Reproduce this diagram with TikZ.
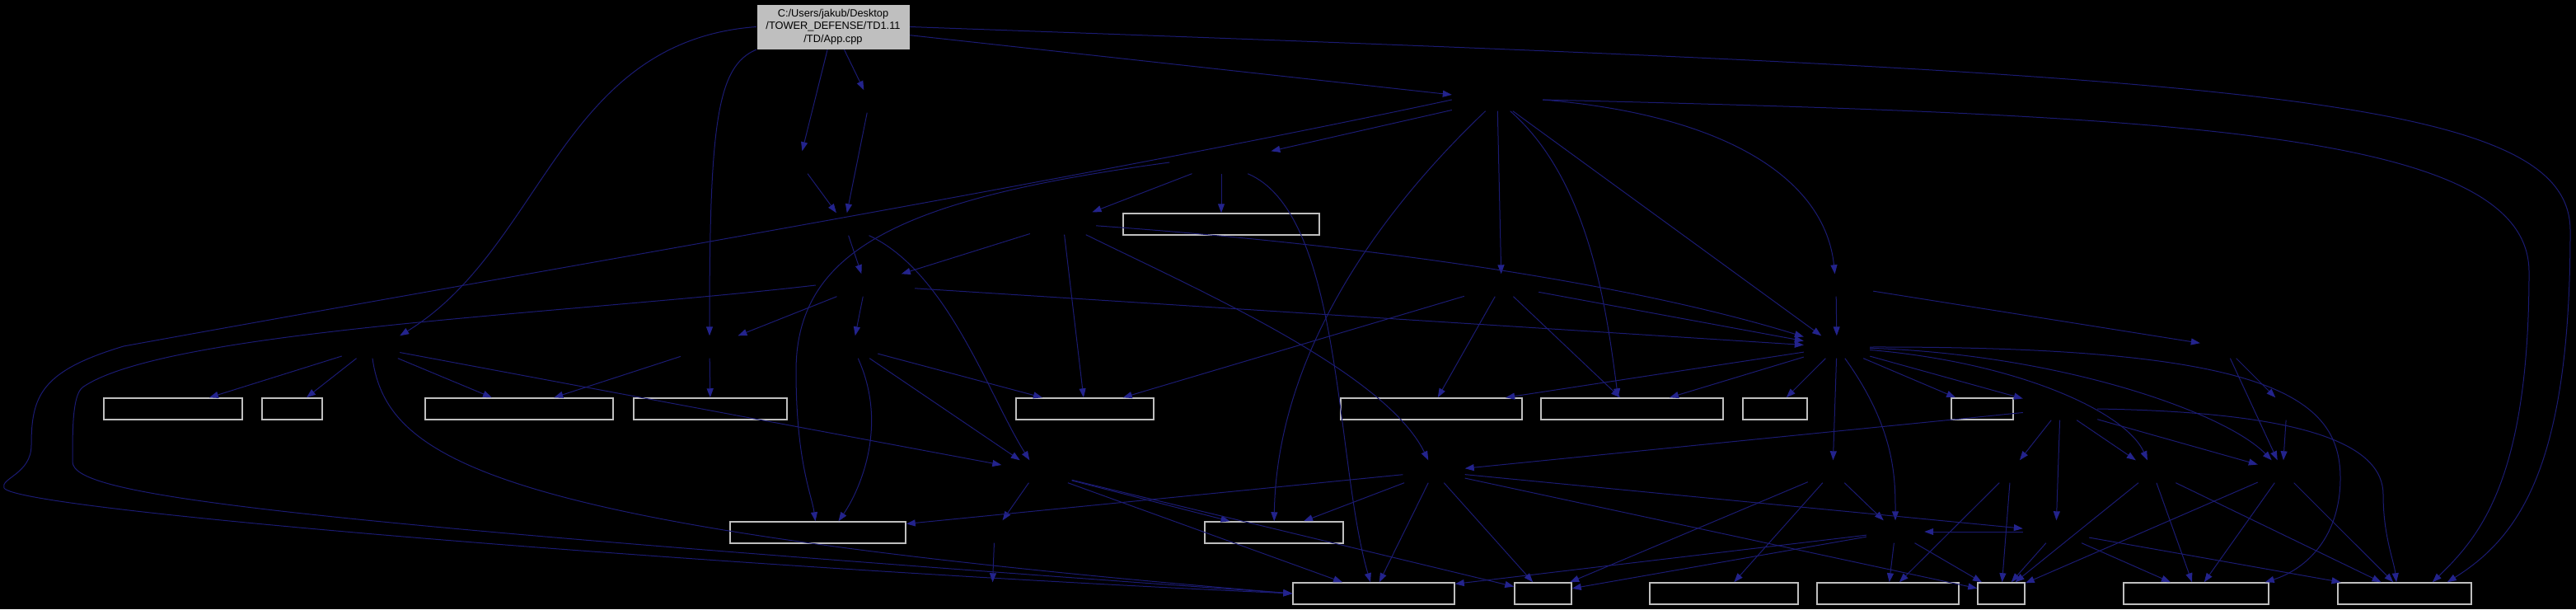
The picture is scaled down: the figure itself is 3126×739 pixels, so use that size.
\documentclass[tikz,border=0pt]{standalone}
\usepackage{fontspec}
\setmainfont{Liberation Sans}
\usetikzlibrary{arrows.meta}
\definecolor{edgeblue}{RGB}{27,27,115}
\definecolor{tipblue}{RGB}{35,35,140}
\definecolor{boxgray}{RGB}{191,191,191}
\tikzset{
  hid/.style={inner sep=0pt, minimum height=27, minimum width=#1},
  wbox/.style={draw=boxgray, fill=black, line width=1.5pt, inner sep=0pt, minimum height=26, minimum width=#1},
  rootbox/.style={draw=black, fill=boxgray, inner sep=0pt, minimum height=55, minimum width=186, align=center, font=\fontsize{12.8}{15.3}\selectfont},
  e/.style={edgeblue, line width=1pt, -{Triangle[length=11pt,width=8pt,color=tipblue]}},
}
\begin{document}
\begin{tikzpicture}[x=1pt,y=-1pt]
\fill[black] (0,0) rectangle (3126,739);
\useasboundingbox (0,0) rectangle (3126,739);
% root
\node[rootbox] (R) at (1011,32.5) {C:/Users/jakub/Desktop\\/TOWER\_DEFENSE/TD1.11\\/TD/App.cpp};
% hidden nodes
\node[hid=110] (A) at (1817,121) {};
\node[hid=60] (N2) at (1055,123) {};
\node[hid=60] (N1) at (970,197) {};
\node[hid=125] (B) at (1482,197) {};
\node[hid=80] (N3) at (1025,272) {};
\node[hid=80] (C) at (1290,271) {};
\node[hid=120] (D) at (1050,346) {};
\node[hid=90] (E) at (1822,346) {};
\node[hid=90] (F) at (2228,346) {};
\node[hid=70] (H) at (450,421) {};
\node[hid=70] (I) at (861,421) {};
\node[hid=60] (J) at (1035,421) {};
\node[hid=80] (K) at (2229,421) {};
\node[hid=60] (G) at (2700,421) {};
\node[hid=90] (L) at (2500,496) {};
\node[hid=60] (G2) at (2775,496) {};
\node[hid=85] (S) at (1258,572) {};
\node[hid=75] (T) at (1740,572) {};
\node[hid=60] (Q) at (2224,572) {};
\node[hid=60] (R2) at (2440,572) {};
\node[hid=60] (P) at (2612,572) {};
\node[hid=60] (M) at (2770,572) {};
\node[hid=40] (U) at (1207,645) {};
\node[hid=70] (V) at (2300,645) {};
\node[hid=80] (X) at (2495,645) {};
\node[hid=60] (Y) at (1204,720) {};
% white boxes
\node[wbox=238] (WB) at (1482,272) {};
\node[wbox=168] (W1) at (210,496) {};
\node[wbox=73] (W2) at (354.5,496) {};
\node[wbox=228] (W3) at (630,496) {};
\node[wbox=186] (W3b) at (862,496) {};
\node[wbox=167] (W4) at (1316.5,496) {};
\node[wbox=220] (W5) at (1737,496) {};
\node[wbox=221] (W6) at (1980.5,496) {};
\node[wbox=78] (W7) at (2154,496) {};
\node[wbox=75] (W8) at (2405.5,496) {};
\node[wbox=213] (W9) at (992.5,646) {};
\node[wbox=168] (W10) at (1546,646) {};
\node[wbox=196] (Wb1) at (1667,720) {};
\node[wbox=69] (Wb2) at (1872.5,720) {};
\node[wbox=180] (Wb3) at (2092,720) {};
\node[wbox=172] (Wb4) at (2291,720) {};
\node[wbox=57] (Wb5) at (2428.5,720) {};
\node[wbox=176] (Wb6) at (2665,720) {};
\node[wbox=162] (Wb7) at (2918,720) {};
% edges from root
\draw[e] (R) -- (A);
\draw[e] (R) -- (N1);
\draw[e] (R) -- (N2);
\draw[e] (R.south west) .. controls (870,80) and (861,150) .. (I);
\draw[e] (R.west) .. controls (680,50) and (660,300) .. (H.north east);
\draw[e] (R.east) .. controls (2700,90) and (3119,110) .. (3119,280) .. controls (3119,560) and (3060,650) .. ([xshift=-30]Wb7.north east);
% A
\draw[e] (A.east) .. controls (2650,140) and (3069,160) .. (3069,330) .. controls (3069,580) and (3010,650) .. ([xshift=-48]Wb7.north east);
\draw[e] (A) -- (B);
\draw[e] (A) -- (E);
\draw[e] (A) -- (K);
\draw[e] (A.east) .. controls (2100,140) and (2215,220) .. (F);
\draw[e] (A) .. controls (1930,220) and (1950,380) .. ([xshift=-17]W6.north);
\draw[e] (A) .. controls (1650,280) and (1549,450) .. (W10);
\draw[e] (A.west) .. controls (1300,220) and (700,320) .. (150,420) .. controls (50,450) and (38,480) .. (38,540) .. controls (38,575) and (0,580) .. (5,592) .. controls (20,620) and (900,690) .. (Wb1.west);
% B, C, N
\draw[e] (B) -- (WB);
\draw[e] (B) -- (C);
\draw[e] (B.west) .. controls (1100,240) and (966,300) .. (966,450) .. controls (966,560) and (985,600) .. ([xshift=-3]W9.north);
\draw[e] (B) .. controls (1630,260) and (1620,560) .. ([xshift=-4]Wb1.north);
\draw[e] (N1) -- (N3);
\draw[e] (N2) -- (N3);
\draw[e] (N3) -- (D);
\draw[e] (N3) .. controls (1150,330) and (1200,480) .. (S);
\draw[e] (C) -- (D);
\draw[e] (C) .. controls (1700,300) and (2000,350) .. (K);
\draw[e] (C) -- (W4);
\draw[e] (C) .. controls (1450,350) and (1680,450) .. (T);
% D
\draw[e] (D) -- (I);
\draw[e] (D) -- (J);
\draw[e] (D) -- (K);
\draw[e] (D.west) .. controls (700,380) and (200,400) .. (100,470) .. controls (88,480) and (88,520) .. (88,560) .. controls (88,600) and (300,630) .. (Wb1.west);
% H, I, J
\draw[e] (H) -- (W1);
\draw[e] (H) -- (W2);
\draw[e] (H) -- (W3);
\draw[e] (H) -- (S);
\draw[e] (H) .. controls (470,560) and (600,640) .. (Wb1.west);
\draw[e] (I) -- (W3);
\draw[e] (I) -- (W3b);
\draw[e] (J) -- (W4);
\draw[e] (J) -- (S);
\draw[e] (J) .. controls (1080,520) and (1040,600) .. ([xshift=25]W9.north);
% E, F
\draw[e] (E) -- (W4);
\draw[e] (E) -- (W5);
\draw[e] (E) -- (W6);
\draw[e] (E) -- (K);
\draw[e] (F) -- (K);
\draw[e] (F) -- (G);
% K
\draw[e] (K) -- (W5);
\draw[e] (K) -- (W6);
\draw[e] (K) -- (W7);
\draw[e] (K) -- (W8);
\draw[e] (K) -- (L);
\draw[e] (K) -- (Q);
\draw[e] (K) .. controls (2450,440) and (2580,500) .. (P);
\draw[e] (K) .. controls (2500,430) and (2700,500) .. (M);
\draw[e] (K.east) .. controls (2750,420) and (2840,480) .. (2840,580) .. controls (2840,650) and (2800,690) .. ([xshift=-5]Wb6.north east);
\draw[e] (K) .. controls (2300,520) and (2300,580) .. (V);
% G
\draw[e] (G) -- (G2);
\draw[e] (G) -- (M);
\draw[e] (G2) -- (M);
% L
\draw[e] (L) -- (R2);
\draw[e] (L) -- (P);
\draw[e] (L) -- (M);
\draw[e] (L) -- (X);
\draw[e] (L) -- (T);
\draw[e] (L.east) .. controls (2800,500) and (2892,540) .. (2892,600) .. controls (2892,650) and (2905,680) .. ([xshift=-10]Wb7.north);
% lower right
\draw[e] (M) -- (Wb5);
\draw[e] (M) -- (Wb6);
\draw[e] (M) -- (Wb7);
\draw[e] (P) -- (Wb6);
\draw[e] (P) -- (Wb5);
\draw[e] (P) -- (Wb7);
\draw[e] (R2) -- (Wb5);
\draw[e] (R2) -- (Wb4);
\draw[e] (Q) -- (V);
\draw[e] (Q) -- (Wb3);
\draw[e] (Q) -- (Wb2);
\draw[e] (V) -- (Wb4);
\draw[e] (V) -- (Wb5);
\draw[e] (V) -- (Wb1);
\draw[e] (V) -- (Wb2);
\draw[e] (X) -- (Wb5);
\draw[e] (X) -- (Wb6);
\draw[e] (X) -- (Wb7);
\draw[e] (X) -- (V);
% S, T, U
\draw[e] (S) -- (U);
\draw[e] (S) -- (W10);
\draw[e] (S) -- (Wb1);
\draw[e] (S) -- (Wb2);
\draw[e] (T) -- (W9);
\draw[e] (T) -- (W10);
\draw[e] (T) -- (Wb1);
\draw[e] (T) -- (Wb2);
\draw[e] (T) -- (Wb5);
\draw[e] (T) -- (X);
\draw[e] (U) -- (Y);
\end{tikzpicture}
\end{document}
